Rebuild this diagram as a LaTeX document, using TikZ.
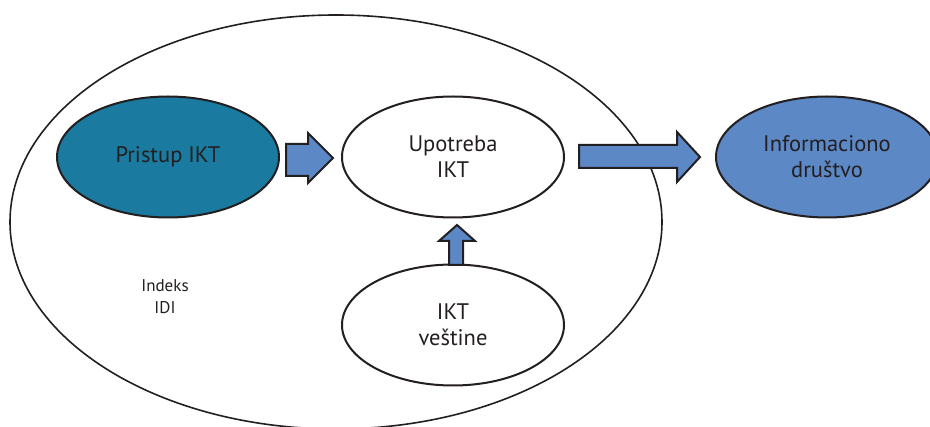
\documentclass[tikz,border=0pt]{standalone}
\usepackage{fontspec}
\setmainfont{PT Sans}
\usetikzlibrary{shapes.geometric}
\definecolor{teal1}{RGB}{26,122,160}
\definecolor{lblue}{RGB}{92,136,198}
\definecolor{ink}{RGB}{35,31,32}
\tikzset{
  oval/.style={ellipse, draw=ink, line width=2pt, inner sep=0pt,
    minimum width=222pt, minimum height=121pt, align=center,
    font=\fontsize{22.5}{26}\selectfont, text=ink},
  blockarrow/.style={draw=ink, line width=2pt, fill=lblue, line join=miter},
  outer/.style={draw=ink, line width=1.6pt}
}
\begin{document}
\begin{tikzpicture}[x=1pt,y=-1pt]
\useasboundingbox (0,0) rectangle (930,427);
\clip (0,0) rectangle (930,427);
\fill[white] (0,0) rectangle (930,427);
\node[ellipse, outer, minimum width=652pt, minimum height=414pt, inner sep=0pt] (big) at (336,222) {};
\node[oval, fill=teal1] (pristup) at (168,157) {Pristup IKT};
\node[oval, fill=white] (upotreba) at (453,157) {Upotreba\\IKT};
\node[oval, fill=white] (vestine) at (453,325) {IKT\\veštine};
\node[oval, fill=lblue, minimum width=222pt] (info) at (827,157) {Informaciono\\društvo};
\node[align=center, font=\fontsize{17}{22}\selectfont, text=ink] (idx) at (165,297) {Indeks\\IDI};
% block arrows
\draw[blockarrow] (286,144) -- (308,144) -- (308,133) -- (333,158) -- (308,183) -- (308,176) -- (286,176) -- cycle;
\draw[blockarrow] (579,145) -- (677,145) -- (677,132) -- (700,157) -- (677,182) -- (677,168) -- (579,168) -- cycle;
\draw[blockarrow] (449,265) -- (449,241) -- (439,241) -- (457,225) -- (475,241) -- (463,241) -- (463,265) -- cycle;
\end{tikzpicture}
\end{document}
